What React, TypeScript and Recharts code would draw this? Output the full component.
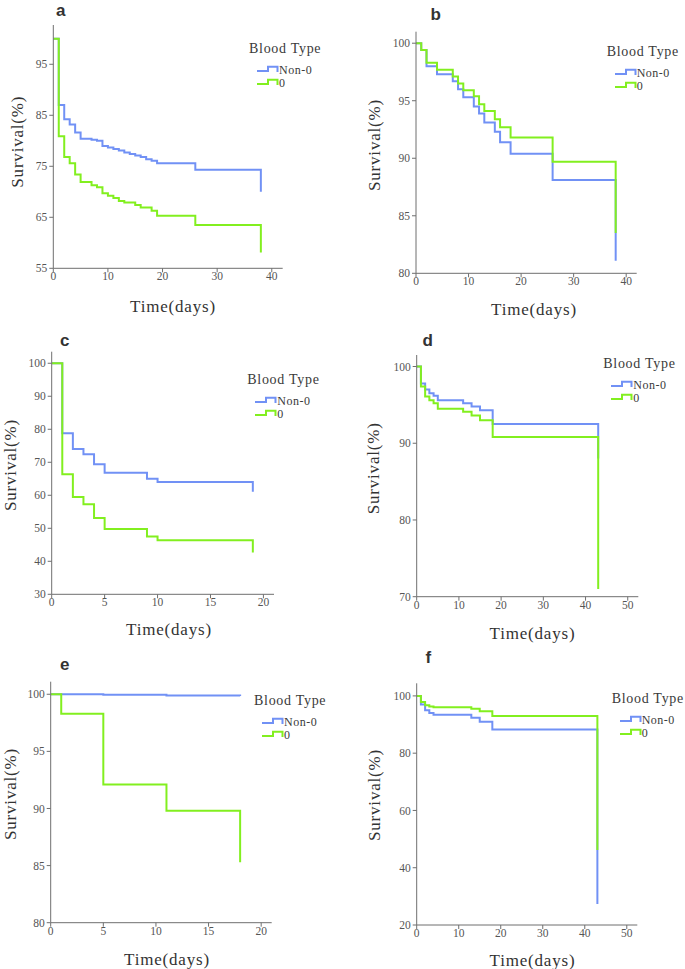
import React from 'react';
import { LineChart, Line, XAxis, YAxis, Legend, Label } from 'recharts';

const BLUE = '#7191f5';
const GREEN = '#82ef1f';
const AXIS = '#6f6f6f';
const SERIF = '"Liberation Serif", "DejaVu Serif", serif';

// a
const aDaysNon0 = [0, 1, 2, 3, 4, 5, 7, 8, 9, 10, 11, 12, 13, 14, 15, 16, 17, 18, 19, 26, 38];
const aSurvNon0 = [100, 87, 84.2, 83.2, 81.6, 80.4, 80.2, 80.0, 79.0, 78.7, 78.4, 78.1, 77.7, 77.4, 77.1, 76.8, 76.4, 76.1, 75.6, 74.3, 70.0];
const aDays0 = [0, 1, 2, 3, 4, 5, 7, 8, 9, 10, 11, 12, 13, 15, 16, 18, 19, 26, 38];
const aSurv0 = [100, 80.9, 76.8, 75.6, 73.4, 71.9, 71.3, 70.9, 69.7, 69.2, 68.8, 68.2, 67.9, 67.4, 66.9, 66.3, 65.3, 63.5, 58.1];

// b
const bDaysNon0 = [0, 1, 2, 4, 7, 8, 9, 11, 12, 13, 15, 16, 18, 26, 38];
const bSurvNon0 = [100, 99.4, 98.0, 97.3, 96.7, 96.0, 95.3, 94.5, 93.9, 93.1, 92.3, 91.4, 90.4, 88.1, 81.1];
const bDays0 = [0, 1, 2, 4, 7, 8, 9, 11, 12, 13, 15, 16, 18, 26, 38];
const bSurv0 = [100, 99.4, 98.3, 97.7, 97.1, 96.5, 95.9, 95.4, 94.7, 94.1, 93.4, 92.7, 91.8, 89.7, 83.5];

// c
const cDaysNon0 = [0, 1, 2, 3, 4, 5, 9, 10, 19];
const cSurvNon0 = [100, 78.8, 74.0, 72.4, 69.4, 66.8, 65.0, 64.0, 61.1];
const cDays0 = [0, 1, 2, 3, 4, 5, 9, 10, 19];
const cSurv0 = [100, 66.4, 59.5, 57.3, 53.1, 49.8, 47.5, 46.4, 42.7];

// d
const dDaysNon0 = [0, 1, 2, 3, 4, 5, 11, 13, 15, 18, 43];
const dSurvNon0 = [100, 97.8, 97.0, 96.5, 96.2, 95.6, 95.2, 94.8, 94.3, 92.5, 88.0];
const dDays0 = [0, 1, 2, 3, 4, 5, 11, 13, 15, 18, 43];
const dSurv0 = [100, 97.4, 96.1, 95.6, 95.2, 94.5, 94.1, 93.6, 93.0, 90.8, 71.0];

// e
const eDaysNon0 = [0, 5, 11, 18];
const eSurvNon0 = [100, 99.95, 99.9, 99.85];
const eDays0 = [0, 1, 5, 11, 18];
const eSurv0 = [100, 98.3, 92.1, 89.8, 85.3];

// f
const fDaysNon0 = [0, 1, 2, 3, 4, 13, 15, 18, 43];
const fSurvNon0 = [100, 97.0, 95.0, 94.0, 93.4, 92.4, 91.0, 88.3, 27.3];
const fDays0 = [0, 1, 2, 3, 4, 13, 15, 18, 43];
const fSurv0 = [100, 97.9, 96.7, 96.3, 96.0, 95.5, 94.6, 93.0, 46.2];

const groupOrder = ['Non-0', '0'];

const xTicks40 = [0, 10, 20, 30, 40];
const xTicks20 = [0, 5, 10, 15, 20];
const xTicks50 = [0, 10, 20, 30, 40, 50];

const toPoints = (days: number[], surv: number[]) => days.map((t, i) => ({ t, s: surv[i] }));

const YW = 40;
const XH = 30;

const panels = [
  {
    id: 'a', cell: { x: 0, y: 0, w: 340, h: 320 }, plot: { x0: 53.3, y0: 25, x1: 282.7, y1: 268.3 },
    xDomain: [0, 42], xTicks: xTicks40, yDomain: [55, 102.7], yTicks: [55, 65, 75, 85, 95],
    non0: toPoints(aDaysNon0, aSurvNon0), zero: toPoints(aDays0, aSurv0),
    title: { x: 56, y: 16 }, xLabel: { x: 173, y: 306 }, yLabel: { x: 17.5, y: 141.7 }, legend: { x: 249, y: 49 },
  },
  {
    id: 'b', cell: { x: 340, y: 0, w: 345, h: 320 }, plot: { x0: 416, y0: 31.7, x1: 636.7, y1: 273.3 },
    xDomain: [0, 42], xTicks: xTicks40, yDomain: [80, 101], yTicks: [80, 85, 90, 95, 100],
    non0: toPoints(bDaysNon0, bSurvNon0), zero: toPoints(bDays0, bSurv0),
    title: { x: 430.5, y: 20 }, xLabel: { x: 534, y: 309.5 }, yLabel: { x: 374.2, y: 145 }, legend: { x: 606.7, y: 52.3 },
  },
  {
    id: 'c', cell: { x: 0, y: 320, w: 340, h: 325 }, plot: { x0: 51.7, y0: 351.7, x1: 274, y1: 594.3 },
    xDomain: [0, 21], xTicks: xTicks20, yDomain: [30, 103.5], yTicks: [30, 40, 50, 60, 70, 80, 90, 100],
    non0: toPoints(cDaysNon0, cSurvNon0), zero: toPoints(cDays0, cSurv0),
    title: { x: 60, y: 346 }, xLabel: { x: 169, y: 629.3 }, yLabel: { x: 10, y: 465 }, legend: { x: 247.3, y: 380 },
  },
  {
    id: 'd', cell: { x: 340, y: 320, w: 345, h: 325 }, plot: { x0: 416.7, y0: 355, x1: 638.3, y1: 596.7 },
    xDomain: [0, 52.5], xTicks: xTicks50, yDomain: [70, 101.5], yTicks: [70, 80, 90, 100],
    non0: toPoints(dDaysNon0, dSurvNon0), zero: toPoints(dDays0, dSurv0),
    title: { x: 422.5, y: 346 }, xLabel: { x: 532.5, y: 633.3 }, yLabel: { x: 374, y: 468.3 }, legend: { x: 603.3, y: 364 },
  },
  {
    id: 'e', cell: { x: 0, y: 645, w: 340, h: 324 }, plot: { x0: 50.7, y0: 681.7, x1: 271.7, y1: 922.7 },
    xDomain: [0, 21], xTicks: xTicks20, yDomain: [80, 101.1], yTicks: [80, 85, 90, 95, 100],
    non0: toPoints(eDaysNon0, eSurvNon0), zero: toPoints(eDays0, eSurv0),
    title: { x: 60, y: 670 }, xLabel: { x: 167, y: 959.3 }, yLabel: { x: 10, y: 794 }, legend: { x: 254, y: 701 },
  },
  {
    id: 'f', cell: { x: 340, y: 645, w: 345, h: 324 }, plot: { x0: 416.7, y0: 683.3, x1: 637.3, y1: 925 },
    xDomain: [0, 52.5], xTicks: xTicks50, yDomain: [20, 104.4], yTicks: [20, 40, 60, 80, 100],
    non0: toPoints(fDaysNon0, fSurvNon0), zero: toPoints(fDays0, fSurv0),
    title: { x: 425.5, y: 663 }, xLabel: { x: 532.5, y: 960.7 }, yLabel: { x: 374, y: 795 }, legend: { x: 611.7, y: 699 },
  },
];

const renderLegend = (props: any) => {
  const payload = [...(props.payload || [])].sort(
    (m: any, n: any) => groupOrder.indexOf(m.value) - groupOrder.indexOf(n.value)
  );
  return (
    <div style={{ position: 'relative', width: 90, height: 50, fontFamily: SERIF, color: '#3a3a3a' }}>
      <div style={{ position: 'absolute', left: 0, top: 0, fontSize: 14, lineHeight: '14px', letterSpacing: 0.7, whiteSpace: 'nowrap' }}>
        Blood Type
      </div>
      {payload.map((p: any, i: number) => (
        <div
          key={p.value}
          style={{ position: 'absolute', left: 8, top: 20.5 + i * 13.5, height: 14, display: 'flex', alignItems: 'center', whiteSpace: 'nowrap' }}
        >
          <svg width={22} height={10} style={{ display: 'block' }}>
            <path d="M0 6 H11 V1.7 H20.5 V7" fill="none" stroke={p.color} strokeWidth={2} />
          </svg>
          <span style={{ fontSize: 12, lineHeight: '14px', letterSpacing: 0.5 }}>{p.value}</span>
        </div>
      ))}
    </div>
  );
};

const Panel = ({ p }: { p: (typeof panels)[number] }) => {
  const { cell, plot } = p;
  const margin = {
    left: plot.x0 - cell.x - YW,
    top: plot.y0 - cell.y,
    right: cell.x + cell.w - plot.x1,
    bottom: cell.y + cell.h - plot.y1 - XH,
  };
  const xl = { x: p.xLabel.x - cell.x, y: p.xLabel.y - cell.y };
  const yl = { x: p.yLabel.x - cell.x, y: p.yLabel.y - cell.y };
  const labelStyle = { fontFamily: SERIF, fontSize: 17, letterSpacing: 0.8, fill: '#333' };
  return (
    <div style={{ position: 'absolute', left: cell.x, top: cell.y, width: cell.w, height: cell.h }}>
      <LineChart width={cell.w} height={cell.h} margin={margin}>
        <XAxis
          type="number"
          dataKey="t"
          domain={p.xDomain}
          ticks={p.xTicks}
          allowDataOverflow
          height={XH}
          stroke={AXIS}
          tickSize={4}
          tickMargin={0}
          tick={{ fill: '#555', fontSize: 11.5, fontFamily: SERIF }}
        >
          <Label
            content={() => (
              <text x={xl.x} y={xl.y} textAnchor="middle" dominantBaseline="central" style={labelStyle}>
                Time(days)
              </text>
            )}
          />
        </XAxis>
        <YAxis
          type="number"
          domain={p.yDomain}
          ticks={p.yTicks}
          allowDataOverflow
          width={YW}
          stroke={AXIS}
          tickSize={4}
          tickMargin={2}
          tick={{ fill: '#555', fontSize: 11.5, fontFamily: SERIF }}
        >
          <Label
            content={() => (
              <text
                x={yl.x}
                y={yl.y}
                textAnchor="middle"
                dominantBaseline="central"
                transform={`rotate(-90, ${yl.x}, ${yl.y})`}
                style={labelStyle}
              >
                Survival(%)
              </text>
            )}
          />
        </YAxis>
        <Legend
          layout="vertical"
          align="center"
          verticalAlign="middle"
          content={renderLegend}
          wrapperStyle={{ left: p.legend.x - cell.x, top: p.legend.y - 7 - cell.y, width: 90, height: 50 }}
        />
        <Line
          data={p.non0}
          dataKey="s"
          name="Non-0"
          type="stepAfter"
          stroke={BLUE}
          strokeWidth={2}
          dot={false}
          activeDot={false}
          isAnimationActive={false}
        />
        <Line
          data={p.zero}
          dataKey="s"
          name="0"
          type="stepAfter"
          stroke={GREEN}
          strokeWidth={2}
          dot={false}
          activeDot={false}
          isAnimationActive={false}
        />
      </LineChart>
      <div
        style={{
          position: 'absolute',
          left: p.title.x - cell.x,
          top: p.title.y - 14.3 - cell.y,
          fontFamily: '"Liberation Sans", Arial, sans-serif',
          fontWeight: 'bold',
          fontSize: 17,
          lineHeight: '17px',
          color: '#333',
        }}
      >
        {p.id}
      </div>
    </div>
  );
};

export default function App() {
  return (
    <div style={{ position: 'absolute', left: 0, top: 0, width: 685, height: 969, background: '#fff' }}>
      {panels.map((p) => (
        <Panel key={p.id} p={p} />
      ))}
    </div>
  );
}
